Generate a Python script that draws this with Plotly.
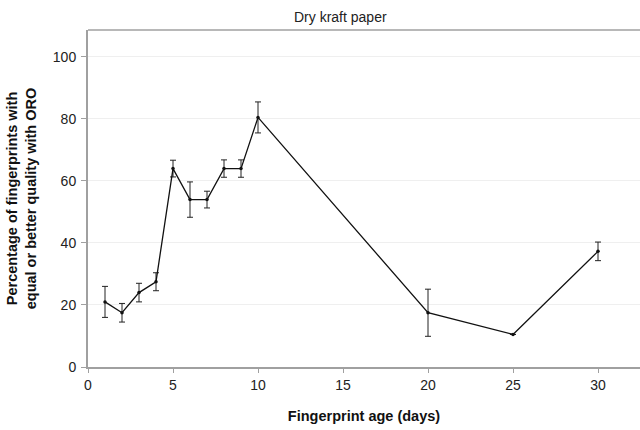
import plotly.graph_objects as go

# Fingerprint age (days) and percentage of prints with equal or better quality
age_days = [1, 2, 3, 4, 5, 6, 7, 8, 9, 10, 20, 25, 30]
pct_equal_better = [21, 17.5, 24, 27.5, 64, 54, 54, 64, 64, 80.5, 17.5, 10.5, 37.3]
pct_error = [5, 3, 3, 2.9, 2.7, 5.7, 2.7, 2.8, 2.8, 5, 7.6, 0, 3]

x_ticks = [0, 5, 10, 15, 20, 25, 30]
y_ticks = [0, 20, 40, 60, 80, 100]

axis_grey = "#a0a0a0"
font_family = "Liberation Sans, Arial, sans-serif"

fig = go.Figure()
fig.add_trace(go.Scatter(
    x=age_days,
    y=pct_equal_better,
    mode="lines+markers",
    line=dict(color="#111111", width=1.3),
    marker=dict(color="#111111", size=3.5),
    error_y=dict(type="data", array=pct_error, visible=True,
                 color="#222222", thickness=1, width=3),
    showlegend=False,
))

fig.update_layout(
    width=640, height=430,
    margin=dict(l=88, r=0, t=30, b=63),
    paper_bgcolor="white",
    plot_bgcolor="white",
    font=dict(family=font_family, size=14, color="#222222"),
    annotations=[
        dict(text="Dry kraft paper", xref="paper", yref="paper",
             x=(340 - 88) / 552, y=1, xanchor="center", yanchor="bottom",
             yshift=3, showarrow=False, font=dict(size=14, color="#222222")),
    ],
    shapes=[
        dict(type="line", xref="paper", yref="paper", x0=0, x1=1, y0=1, y1=1,
             line=dict(color=axis_grey, width=1.5)),
    ],
)

fig.update_xaxes(
    range=[0, 552 / 17],
    tickvals=x_ticks,
    ticktext=[str(v) for v in x_ticks],
    showgrid=False, zeroline=False,
    showline=True, linecolor=axis_grey, linewidth=2,
    ticks="outside", ticklen=4, tickcolor=axis_grey,
    tickfont=dict(size=14, color="#222222"),
    title=dict(text="<b>Fingerprint age (days)</b>", font=dict(size=14.5, color="#111111"),
               standoff=19),
)

fig.update_yaxes(
    range=[0, 108.7],
    tickvals=y_ticks,
    ticktext=[str(v) for v in y_ticks],
    showgrid=True, gridcolor="#efefef", gridwidth=1,
    zeroline=False,
    showline=True, linecolor=axis_grey, linewidth=2,
    ticks="outside", ticklen=5, tickcolor=axis_grey,
    ticklabelstandoff=2,
    tickfont=dict(size=14, color="#222222"),
    title=dict(text="<b>Percentage of fingerprints with<br>equal or better quality with ORO</b>",
               font=dict(size=14.5, color="#111111"), standoff=13),
)

fig.write_html("out.html")
